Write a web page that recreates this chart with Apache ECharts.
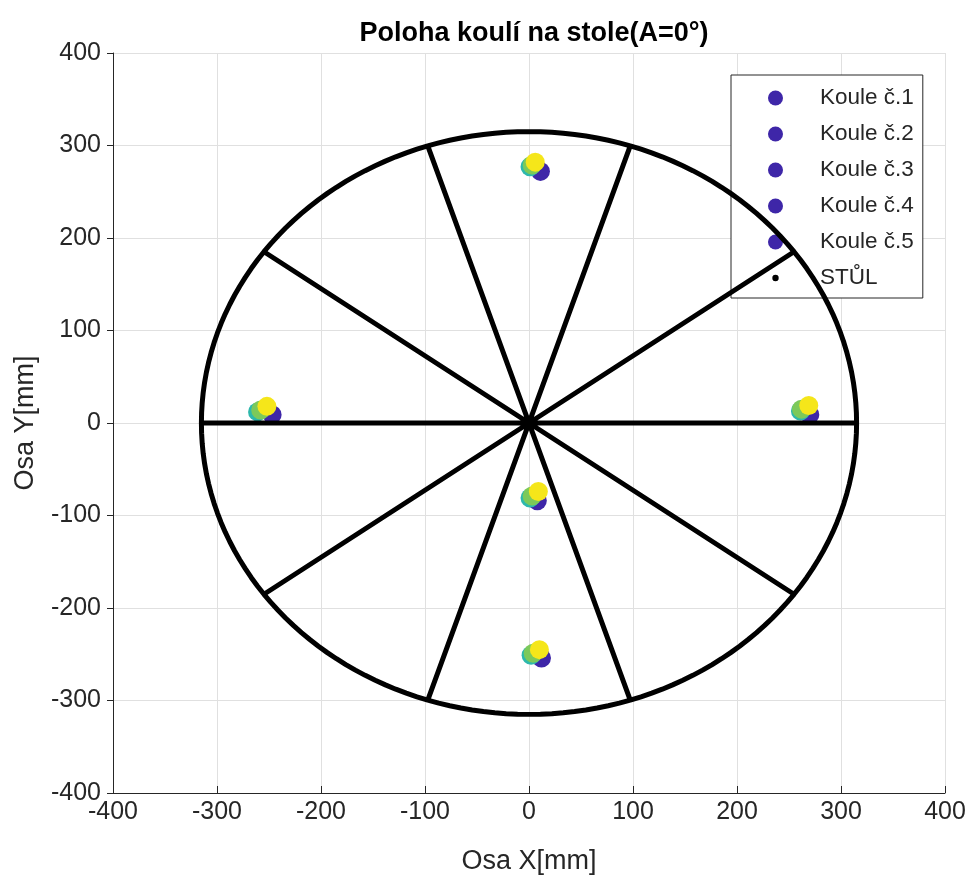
<!DOCTYPE html>
<html>
<head>
<meta charset="utf-8">
<script src="https://cdn.jsdelivr.net/npm/echarts@6/dist/echarts.min.js"></script>
<style>
  html, body { margin: 0; padding: 0; background: #fff; }
  #chart { width: 972px; height: 883px; }
</style>
</head>
<body>
<div id="chart"></div>
<script>
// ball positions per run (4 runs each), mm
const ballNames = ['Koule č.1', 'Koule č.2', 'Koule č.3', 'Koule č.4', 'Koule č.5'];
const ball1X = [11, 1, 3, 6];
const ball1Y = [272, 277, 279, 282];
const ball2X = [-247, -261, -258, -252];
const ball2Y = [9, 12, 14, 18];
const ball3X = [270, 261, 262, 269];
const ball3Y = [9, 13, 15, 19];
const ball4X = [8, 1, 3, 9];
const ball4Y = [-84, -81, -79, -74];
const ball5X = [12, 2, 4, 10];
const ball5Y = [-254, -251, -249, -245];
const runColors = ['#3E26A8', '#2DB8AC', '#7CC95A', '#F5E61A'];

// table geometry
const tableName = 'STŮL';
const tableRadius = 315;
const spokeAngles = [0, 36, 72, 108, 144]; // diameters, degrees
const axisTicks = [-400, -300, -200, -100, 0, 100, 200, 300, 400];

const ballsX = [ball1X, ball2X, ball3X, ball4X, ball5X];
const ballsY = [ball1Y, ball2Y, ball3Y, ball4Y, ball5Y];

function circlePoints(r) {
  const pts = [];
  for (let a = 0; a <= 360; a += 2) {
    const t = a * Math.PI / 180;
    pts.push([r * Math.cos(t), r * Math.sin(t)]);
  }
  return pts;
}
function spokePoints(r) {
  const pts = [];
  spokeAngles.forEach(a => {
    const t = a * Math.PI / 180;
    pts.push([r * Math.cos(t), r * Math.sin(t)]);
    pts.push([-r * Math.cos(t), -r * Math.sin(t)]);
    pts.push('-');
  });
  return pts;
}

const font = "'Liberation Sans', Arial, sans-serif";
const dotIcon = 'image://data:image/svg+xml;charset=utf-8,' + encodeURIComponent(
  '<svg xmlns="http://www.w3.org/2000/svg" width="14" height="14"><circle cx="7" cy="7" r="3" fill="black"/></svg>');

const ballSeries = ballNames.map((name, i) => ({
  name: name,
  type: 'scatter',
  symbolSize: 19,
  itemStyle: { color: runColors[0], opacity: 1 },
  data: ballsX[i].map((x, k) => ({
    value: [x, ballsY[i][k]],
    itemStyle: { color: runColors[k] }
  })),
  z: 3
}));

const tableSeries = [
  {
    name: tableName,
    type: 'line',
    showSymbol: false,
    symbol: 'none',
    lineStyle: { color: '#000', width: 5 },
    itemStyle: { color: '#000' },
    data: circlePoints(tableRadius),
    z: 4
  },
  {
    name: tableName,
    type: 'line',
    showSymbol: false,
    symbol: 'none',
    connectNulls: false,
    lineStyle: { color: '#000', width: 5 },
    itemStyle: { color: '#000' },
    data: spokePoints(tableRadius),
    z: 4
  }
];

const chart = echarts.init(document.getElementById('chart'));
chart.setOption({
  animation: false,
  backgroundColor: '#fff',
  title: {
    text: 'Poloha koulí na stole(A=0°)',
    left: 529,
    textAlign: 'center',
    top: 15,
    textStyle: { fontFamily: font, fontSize: 27, fontWeight: 'bold', color: '#000' }
  },
  legend: {
    orient: 'vertical',
    left: 731,
    top: 75,
    padding: [11, 9, 8, 37],
    itemWidth: 15,
    itemHeight: 15,
    itemGap: 12,
    borderColor: '#262626',
    borderWidth: 1,
    backgroundColor: '#fff',
    textStyle: { fontFamily: font, fontSize: 22.5, color: '#262626', lineHeight: 24, padding: [0, 0, 0, 32] },
    data: ballNames.map(n => ({ name: n, icon: 'circle' })).concat([{ name: tableName, icon: dotIcon }])
  },
  grid: { left: 113, right: 27, top: 53, bottom: 90 },
  xAxis: {
    type: 'value',
    min: axisTicks[0],
    max: axisTicks[axisTicks.length - 1],
    interval: 100,
    name: 'Osa X[mm]',
    nameLocation: 'middle',
    nameGap: 55,
    nameTextStyle: { fontFamily: font, fontSize: 27, color: '#262626' },
    axisLine: { onZero: false, lineStyle: { color: '#262626', width: 1 } },
    axisTick: { inside: true, length: 7, lineStyle: { color: '#262626' } },
    axisLabel: { fontFamily: font, fontSize: 25, color: '#262626', margin: 7 },
    splitLine: { show: true, lineStyle: { color: '#E0E0E0', width: 1 } }
  },
  yAxis: {
    type: 'value',
    min: axisTicks[0],
    max: axisTicks[axisTicks.length - 1],
    interval: 100,
    name: 'Osa Y[mm]',
    nameLocation: 'middle',
    nameGap: 74,
    nameTextStyle: { fontFamily: font, fontSize: 27, color: '#262626' },
    axisLine: { onZero: false, lineStyle: { color: '#262626', width: 1 } },
    axisTick: { inside: false, length: 6, lineStyle: { color: '#262626' } },
    axisLabel: { fontFamily: font, fontSize: 25, color: '#262626', margin: 12 },
    splitLine: { show: true, lineStyle: { color: '#E0E0E0', width: 1 } }
  },
  series: ballSeries.concat(tableSeries)
});
</script>
</body>
</html>
